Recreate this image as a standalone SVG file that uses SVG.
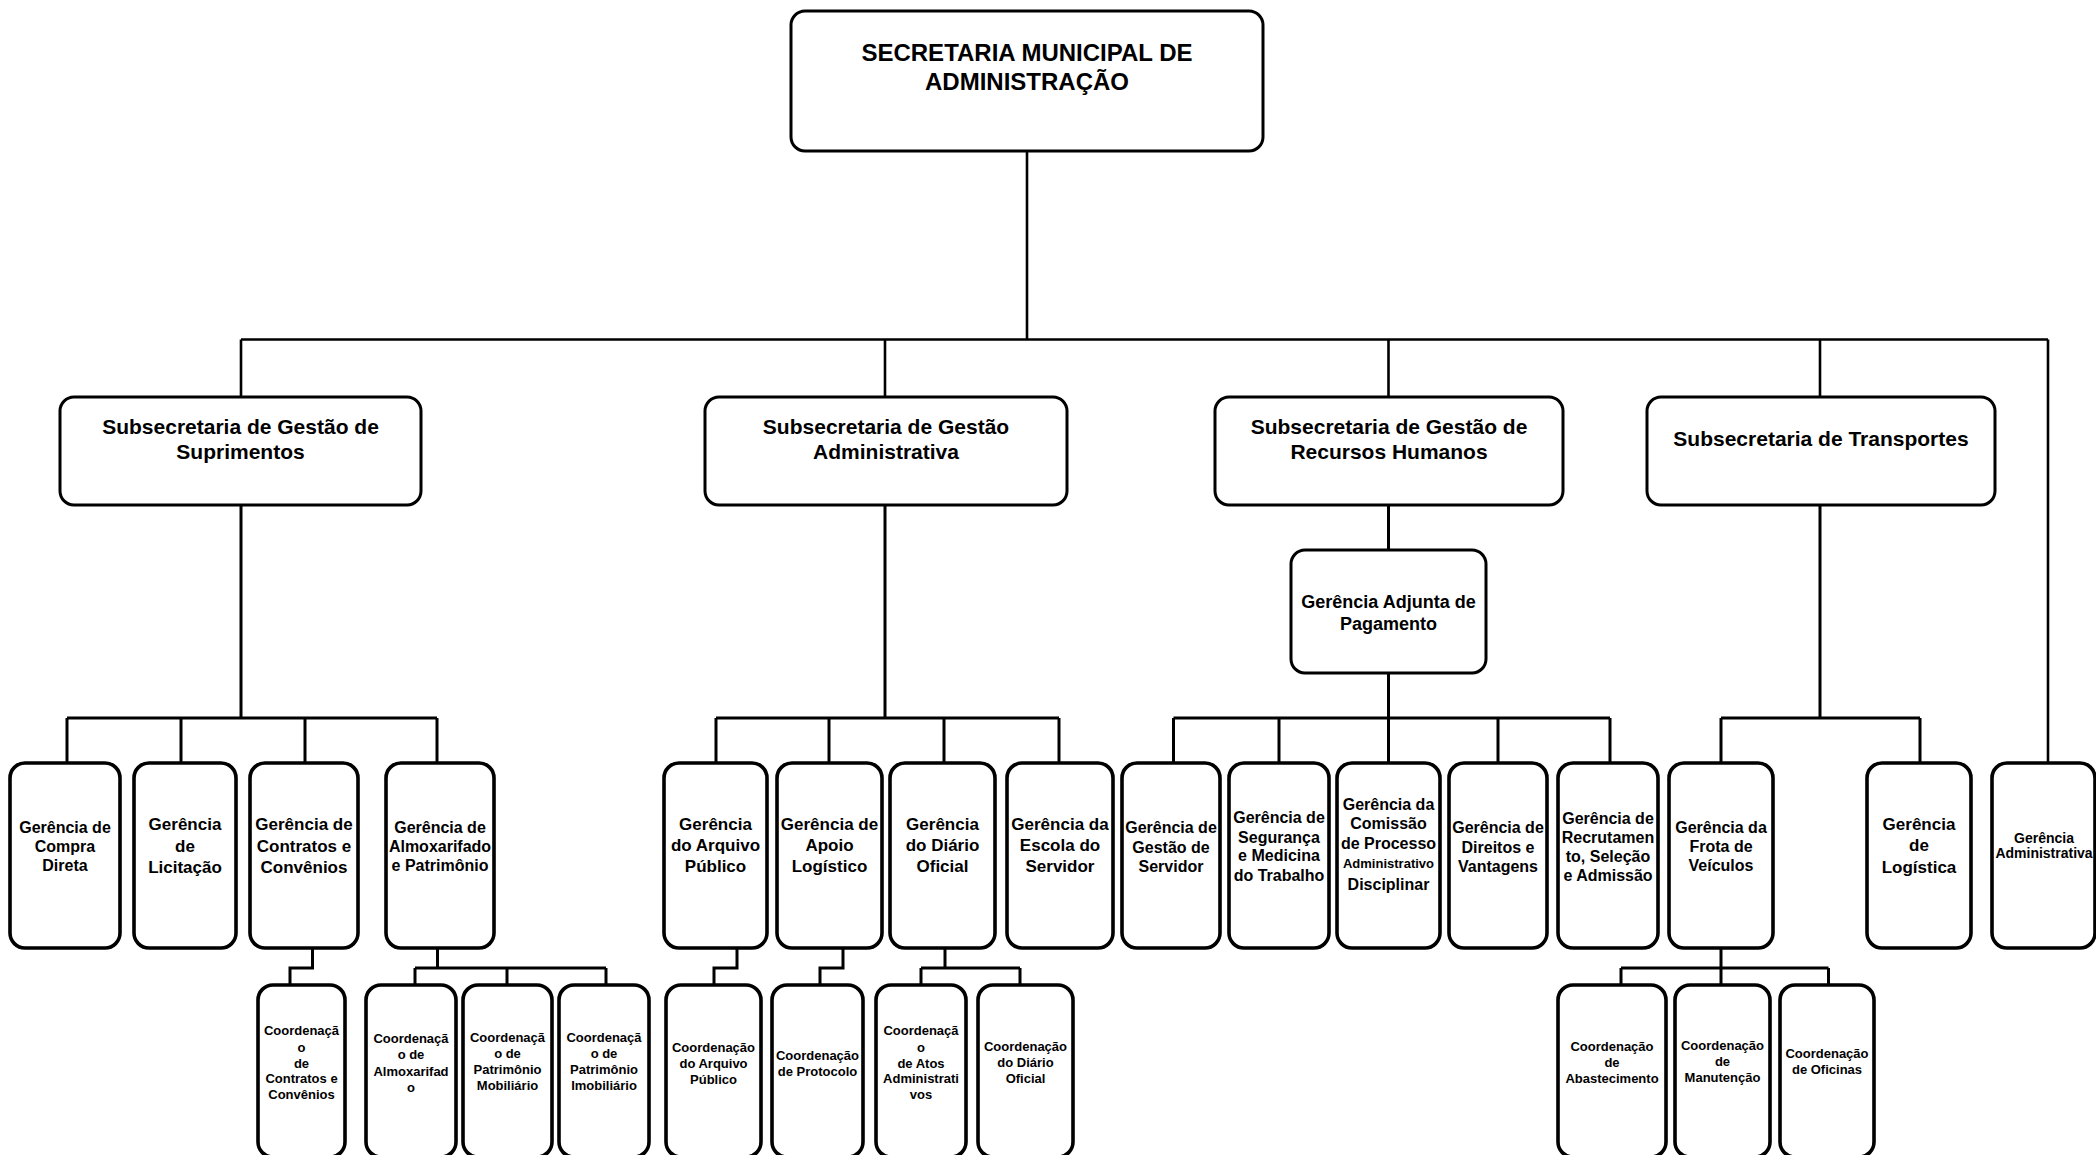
<svg xmlns="http://www.w3.org/2000/svg" width="2096" height="1155" viewBox="0 0 2096 1155">
<style>
.b{fill:#fff;stroke:#000;stroke-width:3}
.b2{fill:#fff;stroke:#000;stroke-width:3.6}
.t{font-family:"Liberation Sans",Arial,sans-serif;font-weight:bold;fill:#000;text-anchor:middle}
.c{fill:none;stroke:#000;stroke-width:3}
.c2{fill:none;stroke:#000;stroke-width:2.6}
.f24{font-size:24px}.f21{font-size:21px}.f18{font-size:18px}.f17{font-size:17px}.f16{font-size:16px}.f14{font-size:14px}.f13{font-size:13px}
</style>
<rect width="2096" height="1155" fill="#fff"/>
<g id="connectors">
<path class="c2" d="M1027 151V339.5M241 339.5H2048M241 339.5V397M885 339.5V397M1388.5 339.5V397M1820 339.5V397M2048 339.5V763"/>
<path class="c" d="M241 505V718M67 718H437M67 718V763M181 718V763M305 718V763M437 718V763"/>
<path class="c" d="M885 505V718M716 718H1059M716 718V763M829 718V763M944 718V763M1059 718V763"/>
<path class="c" d="M1388.5 505V550M1388.5 673V718M1173.5 718H1610M1173.5 718V763M1279 718V763M1388.5 718V763M1498 718V763M1610 718V763"/>
<path class="c" d="M1820 505V718M1721 718H1920M1721 718V763M1920 718V763"/>
<path class="c" d="M312.5 948V968H290V985"/>
<path class="c" d="M437.5 948V968M415 968H606M415 968V985M507 968V985M606 968V985"/>
<path class="c" d="M737 948V968H714V985"/>
<path class="c" d="M843 948V968H820V985"/>
<path class="c" d="M945 948V968M921 968H1020M921 968V985M1020 968V985"/>
<path class="c" d="M1721 948V968M1621 968H1828.5M1621 968V985M1721 968V985M1828.5 968V985"/>
</g>
<g id="secretaria"><rect class="b" x="791" y="11" width="472" height="140" rx="14"/>
<text class="t f24"><tspan x="1027" y="61">SECRETARIA MUNICIPAL DE</tspan><tspan x="1027" y="90">ADMINISTRAÇÃO</tspan></text></g>
<g id="sub-suprimentos"><rect class="b" x="60" y="397" width="361" height="108" rx="14"/>
<text class="t f21"><tspan x="240.5" y="433.5">Subsecretaria de Gestão de</tspan><tspan x="240.5" y="458.5">Suprimentos</tspan></text></g>
<g id="sub-administrativa"><rect class="b" x="705" y="397" width="362" height="108" rx="14"/>
<text class="t f21"><tspan x="886" y="433.5">Subsecretaria de Gestão</tspan><tspan x="886" y="458.5">Administrativa</tspan></text></g>
<g id="sub-rh"><rect class="b" x="1215" y="397" width="348" height="108" rx="14"/>
<text class="t f21"><tspan x="1389" y="433.5">Subsecretaria de Gestão de</tspan><tspan x="1389" y="458.5">Recursos Humanos</tspan></text></g>
<g id="sub-transportes"><rect class="b" x="1647" y="397" width="348" height="108" rx="14"/>
<text class="t f21"><tspan x="1821" y="446">Subsecretaria de Transportes</tspan></text></g>
<g id="ger-adjunta-pagamento"><rect class="b" x="1291" y="550" width="195" height="123" rx="14"/>
<text class="t f18"><tspan x="1388.5" y="607.5">Gerência Adjunta de</tspan><tspan x="1388.5" y="629.5">Pagamento</tspan></text></g>

<g id="ger-compra-direta"><rect class="b2" x="10" y="763" width="110" height="185" rx="15"/>
<text class="t f16"><tspan x="65" y="833">Gerência de</tspan><tspan x="65" y="852">Compra</tspan><tspan x="65" y="871">Direta</tspan></text></g>
<g id="ger-licitacao"><rect class="b2" x="134" y="763" width="102" height="185" rx="15"/>
<text class="t f17"><tspan x="185" y="830">Gerência</tspan><tspan x="185" y="852">de</tspan><tspan x="185" y="873">Licitação</tspan></text></g>
<g id="ger-contratos"><rect class="b2" x="250" y="763" width="108" height="185" rx="15"/>
<text class="t f17"><tspan x="304" y="830">Gerência de</tspan><tspan x="304" y="852">Contratos e</tspan><tspan x="304" y="873">Convênios</tspan></text></g>
<g id="ger-almoxarifado"><rect class="b2" x="386" y="763" width="108" height="185" rx="15"/>
<text class="t f16"><tspan x="440" y="833">Gerência de</tspan><tspan x="440" y="852">Almoxarifado</tspan><tspan x="440" y="871">e Patrimônio</tspan></text></g>

<g id="ger-arquivo"><rect class="b2" x="664" y="763" width="103" height="185" rx="15"/>
<text class="t f17"><tspan x="715.5" y="830">Gerência</tspan><tspan x="715.5" y="851">do Arquivo</tspan><tspan x="715.5" y="872">Público</tspan></text></g>
<g id="ger-apoio"><rect class="b2" x="777" y="763" width="105" height="185" rx="15"/>
<text class="t f17"><tspan x="829.5" y="830">Gerência de</tspan><tspan x="829.5" y="851">Apoio</tspan><tspan x="829.5" y="872">Logístico</tspan></text></g>
<g id="ger-diario"><rect class="b2" x="890" y="763" width="105" height="185" rx="15"/>
<text class="t f17"><tspan x="942.5" y="830">Gerência</tspan><tspan x="942.5" y="851">do Diário</tspan><tspan x="942.5" y="872">Oficial</tspan></text></g>
<g id="ger-escola"><rect class="b2" x="1007" y="763" width="106" height="185" rx="15"/>
<text class="t f17"><tspan x="1060" y="830">Gerência da</tspan><tspan x="1060" y="851">Escola do</tspan><tspan x="1060" y="872">Servidor</tspan></text></g>

<g id="ger-gestao-servidor"><rect class="b2" x="1122" y="763" width="98" height="185" rx="15"/>
<text class="t f16"><tspan x="1171" y="833">Gerência de</tspan><tspan x="1171" y="853">Gestão de</tspan><tspan x="1171" y="872">Servidor</tspan></text></g>
<g id="ger-seguranca"><rect class="b2" x="1229" y="763" width="100" height="185" rx="15"/>
<text class="t f16"><tspan x="1279" y="823">Gerência de</tspan><tspan x="1279" y="843">Segurança</tspan><tspan x="1279" y="861">e Medicina</tspan><tspan x="1279" y="881">do Trabalho</tspan></text></g>
<g id="ger-comissao"><rect class="b2" x="1337" y="763" width="103" height="185" rx="15"/>
<text class="t f16"><tspan x="1388.5" y="810">Gerência da</tspan><tspan x="1388.5" y="829">Comissão</tspan><tspan x="1388.5" y="849">de Processo</tspan><tspan x="1388.5" y="868" class="f13">Administrativo</tspan><tspan x="1388.5" y="890">Disciplinar</tspan></text></g>
<g id="ger-direitos"><rect class="b2" x="1449" y="763" width="98" height="185" rx="15"/>
<text class="t f16"><tspan x="1498" y="833">Gerência de</tspan><tspan x="1498" y="853">Direitos e</tspan><tspan x="1498" y="872">Vantagens</tspan></text></g>
<g id="ger-recrutamento"><rect class="b2" x="1558" y="763" width="100" height="185" rx="15"/>
<text class="t f16"><tspan x="1608" y="824">Gerência de</tspan><tspan x="1608" y="843">Recrutamen</tspan><tspan x="1608" y="862">to, Seleção</tspan><tspan x="1608" y="881">e Admissão</tspan></text></g>

<g id="ger-frota"><rect class="b2" x="1669" y="763" width="104" height="185" rx="15"/>
<text class="t f16"><tspan x="1721" y="833">Gerência da</tspan><tspan x="1721" y="852">Frota de</tspan><tspan x="1721" y="871">Veículos</tspan></text></g>
<g id="ger-logistica"><rect class="b2" x="1867" y="763" width="104" height="185" rx="15"/>
<text class="t f17"><tspan x="1919" y="830">Gerência</tspan><tspan x="1919" y="851">de</tspan><tspan x="1919" y="873">Logística</tspan></text></g>
<g id="ger-administrativa"><rect class="b2" x="1992" y="763" width="103" height="185" rx="15"/>
<text class="t f14"><tspan x="2044" y="843">Gerência</tspan><tspan x="2044" y="858">Administrativa</tspan></text></g>

<g id="coord-contratos"><rect class="b2" x="258" y="985" width="87" height="172" rx="15"/>
<text class="t f13"><tspan x="301.5" y="1035">Coordenaçã</tspan><tspan x="301.5" y="1052">o</tspan><tspan x="301.5" y="1068">de</tspan><tspan x="301.5" y="1083">Contratos e</tspan><tspan x="301.5" y="1099">Convênios</tspan></text></g>
<g id="coord-almoxarifado"><rect class="b2" x="366" y="985" width="90" height="172" rx="15"/>
<text class="t f13"><tspan x="411" y="1043">Coordenaçã</tspan><tspan x="411" y="1059">o de</tspan><tspan x="411" y="1076">Almoxarifad</tspan><tspan x="411" y="1092">o</tspan></text></g>
<g id="coord-pat-mobiliario"><rect class="b2" x="463" y="985" width="89" height="172" rx="15"/>
<text class="t f13"><tspan x="507.5" y="1042">Coordenaçã</tspan><tspan x="507.5" y="1058">o de</tspan><tspan x="507.5" y="1074">Patrimônio</tspan><tspan x="507.5" y="1090">Mobiliário</tspan></text></g>
<g id="coord-pat-imobiliario"><rect class="b2" x="559" y="985" width="90" height="172" rx="15"/>
<text class="t f13"><tspan x="604" y="1042">Coordenaçã</tspan><tspan x="604" y="1058">o de</tspan><tspan x="604" y="1074">Patrimônio</tspan><tspan x="604" y="1090">Imobiliário</tspan></text></g>
<g id="coord-arquivo"><rect class="b2" x="666" y="985" width="95" height="172" rx="15"/>
<text class="t f13"><tspan x="713.5" y="1052">Coordenação</tspan><tspan x="713.5" y="1068">do Arquivo</tspan><tspan x="713.5" y="1084">Público</tspan></text></g>
<g id="coord-protocolo"><rect class="b2" x="772" y="985" width="91" height="172" rx="15"/>
<text class="t f13"><tspan x="817.5" y="1060">Coordenação</tspan><tspan x="817.5" y="1076">de Protocolo</tspan></text></g>
<g id="coord-atos"><rect class="b2" x="876" y="985" width="90" height="172" rx="15"/>
<text class="t f13"><tspan x="921" y="1035">Coordenaçã</tspan><tspan x="921" y="1052">o</tspan><tspan x="921" y="1068">de Atos</tspan><tspan x="921" y="1083">Administrati</tspan><tspan x="921" y="1099">vos</tspan></text></g>
<g id="coord-diario"><rect class="b2" x="978" y="985" width="95" height="172" rx="15"/>
<text class="t f13"><tspan x="1025.5" y="1051">Coordenação</tspan><tspan x="1025.5" y="1067">do Diário</tspan><tspan x="1025.5" y="1083">Oficial</tspan></text></g>
<g id="coord-abastecimento"><rect class="b2" x="1558" y="985" width="108" height="172" rx="15"/>
<text class="t f13"><tspan x="1612" y="1051">Coordenação</tspan><tspan x="1612" y="1067">de</tspan><tspan x="1612" y="1083">Abastecimento</tspan></text></g>
<g id="coord-manutencao"><rect class="b2" x="1675" y="985" width="95" height="172" rx="15"/>
<text class="t f13"><tspan x="1722.5" y="1050">Coordenação</tspan><tspan x="1722.5" y="1066">de</tspan><tspan x="1722.5" y="1082">Manutenção</tspan></text></g>
<g id="coord-oficinas"><rect class="b2" x="1780" y="985" width="94" height="172" rx="15"/>
<text class="t f13"><tspan x="1827" y="1058">Coordenação</tspan><tspan x="1827" y="1074">de Oficinas</tspan></text></g>
</svg>
